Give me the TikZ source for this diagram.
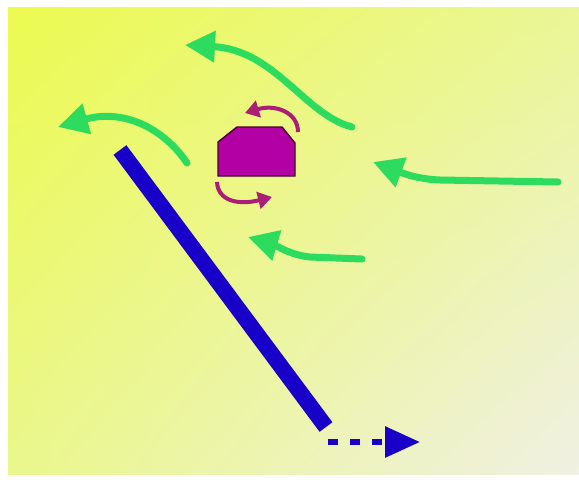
\documentclass[tikz,border=0pt]{standalone}
\usepackage{tikz}
\usepackage{xcolor}
\usetikzlibrary{arrows.meta,shadings}
\definecolor{flowgreen}{RGB}{45,220,95}
\definecolor{barblue}{RGB}{25,0,200}
\definecolor{bodymag}{RGB}{178,0,165}
\definecolor{bodyedge}{RGB}{70,0,45}
\definecolor{spinmag}{RGB}{170,30,120}
\definecolor{bgul}{RGB}{236,250,80}
\definecolor{bgur}{RGB}{234,246,150}
\definecolor{bgll}{RGB}{234,247,140}
\definecolor{bglr}{RGB}{240,240,228}
\begin{document}
\begin{tikzpicture}[x=0.5pt,y=-0.5pt,
  flow/.style={flowgreen,line width=3.5pt,line cap=round,-{Triangle[length=15pt,width=15pt]}},
  spin/.style={spinmag,line width=2pt,-{Triangle[length=7pt,width=8.5pt]}}]
\fill[white] (0,0) rectangle (579,483);
\useasboundingbox (0,0) rectangle (579,483);
\shade[upper left=bgul,upper right=bgur,lower left=bgll,lower right=bglr] (8,7) rectangle (579,474);
\draw[flow] (352,127) .. controls (305,115) and (275,50) .. (185,45);
\draw[flow] (187,163) .. controls (165,130) and (125,108) .. (58,127);
\draw[flow] (558,182) -- (440,180) .. controls (415,179) and (400,172) .. (373,162);
\draw[flow] (362,259) -- (310,257) .. controls (290,255) and (275,245) .. (248,237);
\draw[barblue,line width=8pt] (120,150) -- (326,427);
\draw[barblue,line width=3pt,dash pattern=on 5pt off 6pt,-{Triangle[length=17.5pt,width=15pt]}] (328,442) -- (420,442);
\filldraw[fill=bodymag,draw=bodyedge,line width=0.7pt] (218,176) -- (295,176) -- (295,143) -- (282,127) -- (237,127) -- (218,142) -- cycle;
\draw[spin] (298,132) .. controls (298,112) and (275,104) .. (245,113);
\draw[spin] (217,182) .. controls (218,202) and (240,205) .. (272,197);
\end{tikzpicture}
\end{document}
